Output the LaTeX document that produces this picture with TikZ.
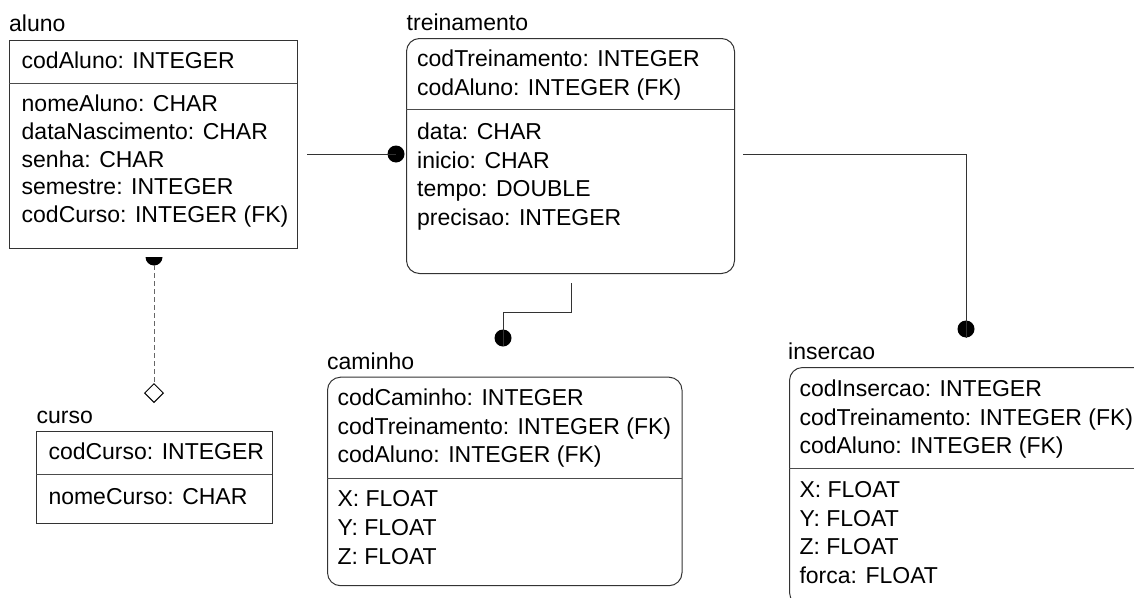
\documentclass[tikz,border=0pt]{standalone}
\usepackage{fontspec}
\setmainfont{Liberation Sans}
\usetikzlibrary{shapes.geometric}
\tikzset{
  tbl/.style={draw=black!80, line width=1pt, anchor=north west, inner sep=0pt},
  rtbl/.style={tbl, rounded corners=13pt},
  sep/.style={draw=black!70, line width=1pt},
  txt/.style={anchor=base west, inner sep=0pt, font=\fontsize{23}{27}\selectfont},
  conn/.style={draw=black!80, line width=1pt},
  dot/.style={circle, fill=black, inner sep=0pt, minimum size=17pt},
  opt/.style={diamond, draw=black, fill=white, line width=1pt, inner sep=0pt, minimum size=19pt, aspect=1},
  dashline/.style={draw=black!60, line width=1pt, dash pattern=on 5pt off 3pt}
}
\begin{document}
\begin{tikzpicture}[x=1pt,y=-1pt]
\useasboundingbox (0,0) rectangle (1134,597);
\begin{scope}
\clip (0,0) rectangle (1134,597);

% ---- aluno ----
\node[txt] (alunoT) at (9,31.5) {aluno};
\node[tbl, minimum width=288pt, minimum height=208pt] (aluno) at (9,40) {};
\draw[sep] (9,83) -- (297,83);
\node[txt] (a0) at (21.5,68.3) {codAluno: INTEGER};
\node[txt] (a1) at (21.5,111.7) {nomeAluno: CHAR};
\node[txt] (a2) at (21.5,139.4) {dataNascimento: CHAR};
\node[txt] (a3) at (21.5,167.2) {senha: CHAR};
\node[txt] (a4) at (21.5,194.9) {semestre: INTEGER};
\node[txt] (a5) at (21.5,222.7) {codCurso: INTEGER (FK)};

% ---- treinamento ----
\node[txt] (treinT) at (406.5,30) {treinamento};
\node[rtbl, minimum width=328pt, minimum height=235pt] (trein) at (406,38) {};
\draw[sep] (406,109) -- (734,109);
\node[txt] (t0) at (417,66.7) {codTreinamento: INTEGER};
\node[txt] (t1) at (417,95.7) {codAluno: INTEGER (FK)};
\node[txt] (t2) at (417,139) {data: CHAR};
\node[txt] (t3) at (417,168) {inicio: CHAR};
\node[txt] (t4) at (417,196.8) {tempo: DOUBLE};
\node[txt] (t5) at (417,225.7) {precisao: INTEGER};

% ---- curso ----
\node[txt] (cursoT) at (36.5,423.3) {curso};
\node[tbl, minimum width=235.5pt, minimum height=92pt] (curso) at (36,430.7) {};
\draw[sep] (36,474) -- (271.5,474);
\node[txt] (c0) at (48.3,459.3) {codCurso: INTEGER};
\node[txt] (c1) at (48.3,504) {nomeCurso: CHAR};

% ---- caminho ----
\node[txt] (camT) at (327,369.3) {caminho};
\node[rtbl, minimum width=354.5pt, minimum height=208.5pt] (cam) at (327,376.7) {};
\draw[sep] (327,478) -- (681.5,478);
\node[txt] (k0) at (337.3,405) {codCaminho: INTEGER};
\node[txt] (k1) at (337.3,434) {codTreinamento: INTEGER (FK)};
\node[txt] (k2) at (337.3,462.7) {codAluno: INTEGER (FK)};
\node[txt] (k3) at (337.3,506.7) {X: FLOAT};
\node[txt] (k4) at (337.3,535) {Y: FLOAT};
\node[txt] (k5) at (337.3,564.3) {Z: FLOAT};

% ---- insercao ----
\node[txt] (insT) at (788,359.3) {insercao};
\node[rtbl, minimum width=370pt, minimum height=238pt] (ins) at (789,367) {};
\draw[sep] (789,468) -- (1134,468);
\node[txt] (i0) at (799.3,396) {codInsercao: INTEGER};
\node[txt] (i1) at (799.3,425) {codTreinamento: INTEGER (FK)};
\node[txt] (i2) at (799.3,453.3) {codAluno: INTEGER (FK)};
\node[txt] (i3) at (799.3,497.3) {X: FLOAT};
\node[txt] (i4) at (799.3,526) {Y: FLOAT};
\node[txt] (i5) at (799.3,554.3) {Z: FLOAT};
\node[txt] (i6) at (799.3,583.3) {forca: FLOAT};

% ---- relationships ----
% aluno -> treinamento
\coordinate (atS) at (307,154);
\node[dot] (atE) at (396,154) {};
\draw[conn] (atS) -- (atE.center);

% treinamento -> caminho
\coordinate (tcS) at (571,283);
\coordinate (tcEnd) at (503,346);
\node[dot] (tcE) at (503,338) {};
\draw[conn] (tcS) -- (571,312) -| (tcEnd);

% treinamento -> insercao
\coordinate (tiS) at (743,154);
\coordinate (tiEnd) at (966,338);
\node[dot] (tiE) at (966,329) {};
\draw[conn] (tiS) -| (tiEnd);

% aluno -> curso (optional)
\coordinate (acS) at (154,257);
\node[opt] (acE) at (154,393) {};
\fill (acS) ++(-8.5,0) arc[start angle=180, end angle=0, radius=8.5] -- cycle;
\draw[dashline] (154,265) -- (acE.north);
\end{scope}
\end{tikzpicture}
\end{document}
